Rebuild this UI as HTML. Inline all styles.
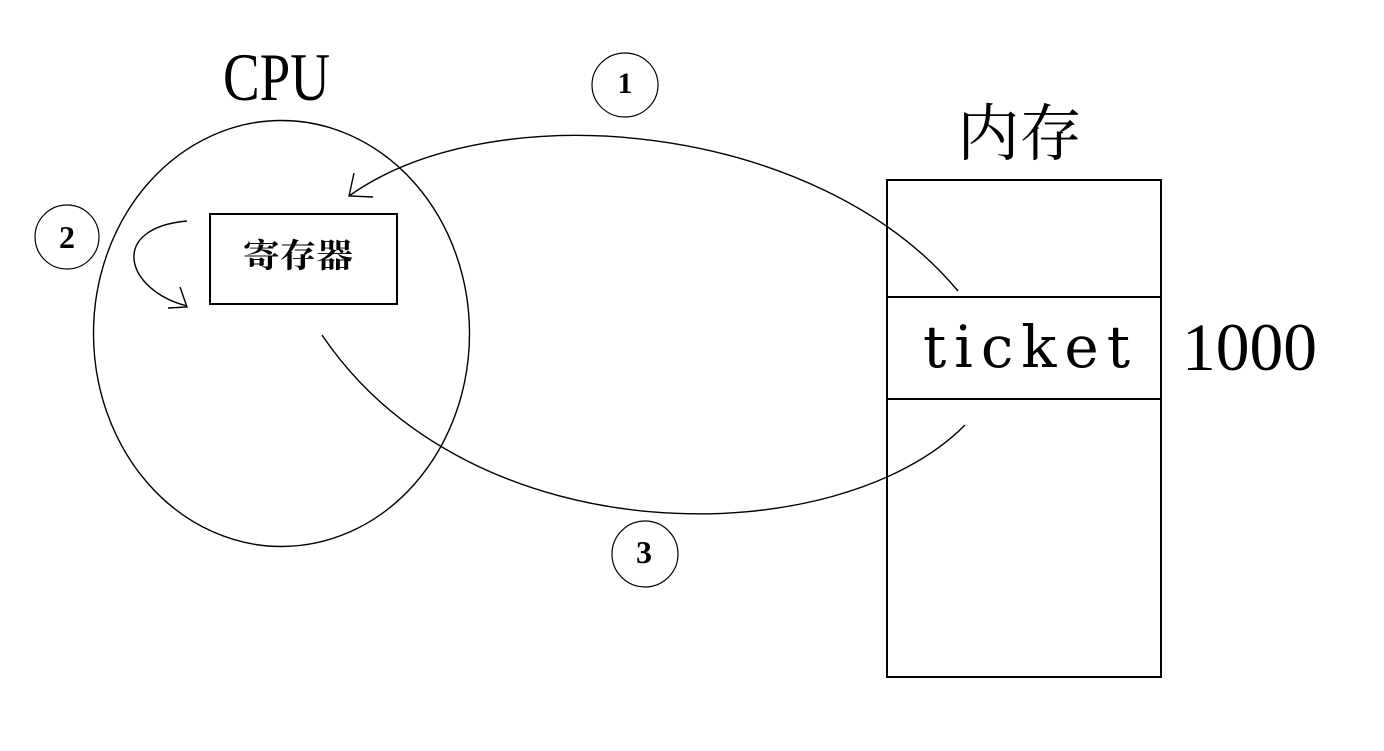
<!DOCTYPE html>
<html>
<head>
<meta charset="utf-8">
<style>
html,body{margin:0;padding:0;background:#fff;}
svg{display:block;}
</style>
</head>
<body>
<svg width="1384" height="751" viewBox="0 0 1384 751" xmlns="http://www.w3.org/2000/svg">
<rect width="1384" height="751" fill="#fff"/>

<!-- CPU label -->
<text x="223" y="100" font-family="Liberation Serif, serif" font-size="68" textLength="107" lengthAdjust="spacingAndGlyphs" fill="#000">CPU</text>

<!-- CPU ellipse -->
<ellipse cx="281.5" cy="333.5" rx="188" ry="213" fill="none" stroke="#000" stroke-width="1.4"/>

<!-- register box -->
<rect x="210" y="214" width="187" height="90" fill="none" stroke="#000" stroke-width="2"/>
<text x="243" y="267" font-family="Liberation Serif, 'Noto Serif CJK SC', 'Noto Sans CJK SC', serif" font-weight="bold" font-size="33" textLength="110" lengthAdjust="spacingAndGlyphs" fill="#000">寄存器</text>

<!-- memory label -->
<text x="957" y="155" font-family="Liberation Serif, 'Noto Serif CJK SC', 'Noto Sans CJK SC', serif" font-size="62" textLength="125" lengthAdjust="spacingAndGlyphs" fill="#000">内存</text>

<!-- memory box -->
<rect x="887" y="180" width="274" height="497" fill="none" stroke="#000" stroke-width="2"/>
<line x1="886" y1="297" x2="1162" y2="297" stroke="#000" stroke-width="2"/>
<line x1="886" y1="399" x2="1162" y2="399" stroke="#000" stroke-width="2"/>
<text x="923" y="367" font-family="DejaVu Serif, serif" font-size="58" textLength="207" lengthAdjust="spacing" fill="#000">ticket</text>
<text x="1182" y="370" font-family="Liberation Serif, serif" font-size="68" textLength="135" lengthAdjust="spacingAndGlyphs" fill="#000">1000</text>

<!-- numbered circles -->
<ellipse cx="625" cy="85" rx="33" ry="32" fill="none" stroke="#000" stroke-width="1.2"/>
<text x="625" y="93" text-anchor="middle" font-family="Liberation Serif, serif" font-weight="bold" font-size="30" fill="#000">1</text>

<ellipse cx="67" cy="237" rx="32" ry="32" fill="none" stroke="#000" stroke-width="1.2"/>
<text x="67" y="248" text-anchor="middle" font-family="Liberation Serif, serif" font-weight="bold" font-size="32" fill="#000">2</text>

<ellipse cx="645" cy="554" rx="33" ry="33" fill="none" stroke="#000" stroke-width="1.2"/>
<text x="644" y="563" text-anchor="middle" font-family="Liberation Serif, serif" font-weight="bold" font-size="32" fill="#000">3</text>

<!-- curve 1: memory -> register -->
<path d="M958,291 C817,121.6 495,91.6 349,196" fill="none" stroke="#000" stroke-width="1.4"/>
<path d="M354,173 L349,196 L373,197" fill="none" stroke="#000" stroke-width="1.4"/>

<!-- curve 2: register loop -->
<path d="M187,221 C108,228 125,290 187,306" fill="none" stroke="#000" stroke-width="1.4"/>
<path d="M180,287 L187,307 L168,308" fill="none" stroke="#000" stroke-width="1.4"/>

<!-- curve 3: register -> memory -->
<path d="M322,335 C473.2,559.1 839,552.8 965,425" fill="none" stroke="#000" stroke-width="1.4"/>
</svg>
</body>
</html>
